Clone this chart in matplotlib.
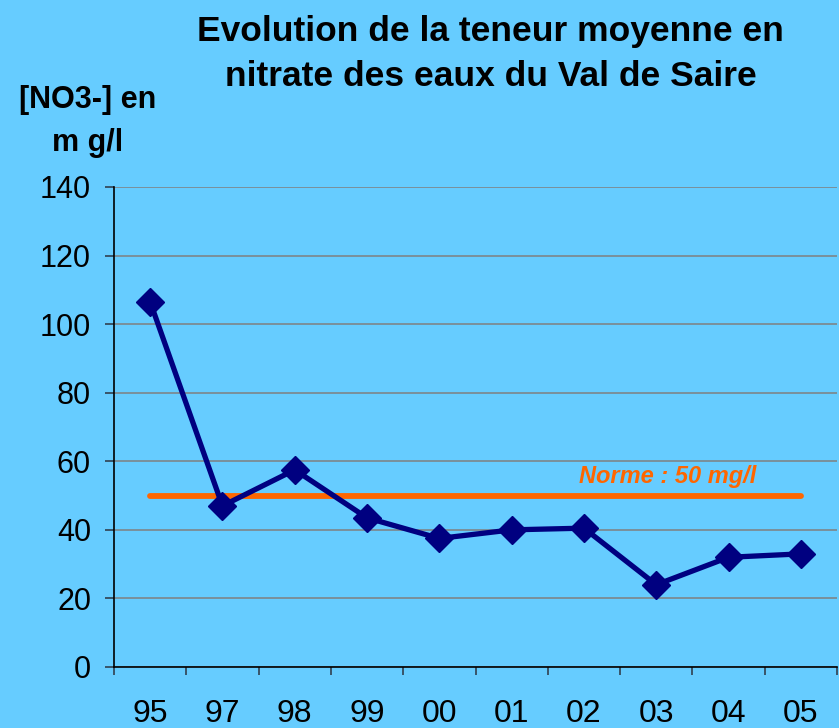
import matplotlib
matplotlib.use("Agg")
from matplotlib import pyplot as plt
import numpy as np

# data
years = ["95", "97", "98", "99", "00", "01", "02", "03", "04", "05"]
nitrate = [106.5, 47, 57.5, 43.5, 37.5, 40, 40.5, 24, 32, 33]
norme = 50

bg = "#66CCFF"
font = {'family': 'Liberation Sans', 'size': 22}
matplotlib.rc('font', **font)

fig = plt.figure(figsize=(8.39, 7.28), dpi=100, facecolor=bg)
ax = fig.add_axes([114 / 839, 1 - 667 / 728, 723 / 839, 480 / 728])
ax.set_facecolor(bg)

x = np.arange(len(years))
ax.plot(x, nitrate, color="#000080", linewidth=3.8, marker="D",
        markersize=14.5, zorder=4)
ax.plot([x[0], x[-1]], [norme, norme], color="#FF6600", linewidth=4.2,
        solid_capstyle="round", zorder=3)
ax.text(7.16, 53.6, "Norme : 50 mg/l", color="#FF6600", fontsize=17,
        fontweight="bold", fontstyle="italic", ha="center", va="baseline")

ax.set_xlim(-0.5, len(years) - 0.5)
ax.set_ylim(0, 140)
ax.set_yticks(range(0, 141, 20))
ax.yaxis.grid(True, color="#808080", linewidth=1.1)
ax.set_axisbelow(True)
ax.set_xticks(np.arange(-0.5, len(years), 1))
ax.set_xticklabels([])
ax.set_xticks(x, minor=True)
ax.set_xticklabels(years, minor=True, fontsize=23)
ax.tick_params(axis="x", which="minor", length=0, pad=23)
ax.tick_params(axis="x", which="major", length=6, width=1.2,
               direction="out", color="#304050")
ax.tick_params(axis="y", length=6.5, width=1.2, direction="out", pad=10,
               color="#304050")
for s in ["top", "right"]:
    ax.spines[s].set_visible(False)
ax.spines["left"].set_linewidth(1.2)
ax.spines["bottom"].set_linewidth(1.2)

fig.text(0.585, 1 - 31 / 728, "Evolution de la teneur moyenne en",
         fontsize=25.5, fontweight="bold", ha="center", va="center")
fig.text(0.585, 1 - 76 / 728, "nitrate des eaux du Val de Saire",
         fontsize=25.5, fontweight="bold", ha="center", va="center")
fig.text(88 / 839, 1 - 100 / 728, "[NO3-] en", fontsize=22,
         fontweight="bold", ha="center", va="center")
fig.text(88 / 839, 1 - 143 / 728, "m g/l", fontsize=22,
         fontweight="bold", ha="center", va="center")

plt.savefig("out.png", dpi=100, facecolor=bg)
